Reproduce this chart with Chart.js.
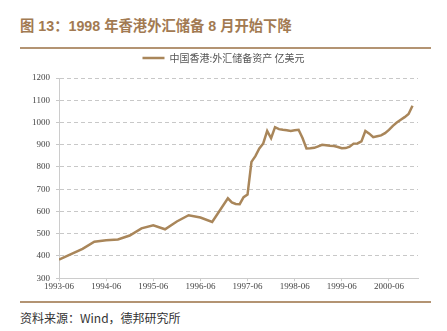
<!DOCTYPE html>
<html>
<head>
<meta charset="utf-8">
<script src="https://cdn.jsdelivr.net/npm/chart.js@4.4.1/dist/chart.umd.min.js"></script>
<style>
  body { margin: 0; width: 447px; height: 331px; background: #fff; position: relative; overflow: hidden; }
  #title { position: absolute; left: 20px; top: 14px; font: bold 14.3px "Liberation Sans", "Noto Sans CJK SC", sans-serif; color: #a27a52; white-space: nowrap; }
  .rule { position: absolute; left: 20px; width: 411px; height: 2px; background: #b39473; }
  #foot { position: absolute; left: 20px; top: 309px; font: 12px "Noto Sans CJK SC", sans-serif; color: #333; white-space: nowrap; }
  #box { position: absolute; left: 0; top: 45px; width: 447px; height: 247px; }
</style>
</head>
<body>
<div id="title">图 13：1998 年香港外汇储备 8 月开始下降</div>
<div class="rule" style="top:47px"></div>
<div id="box"><canvas id="chart"></canvas></div>
<div class="rule" style="top:301px"></div>
<div id="foot">资料来源：Wind，德邦研究所</div>

<script>
const seriesName = "中国香港:外汇储备资产 亿美元";

const dates = [
  "1993-06", "1993-12", "1994-03", "1994-06", "1994-09", "1994-12",
  "1995-03", "1995-06", "1995-09", "1995-12", "1996-03", "1996-06", "1996-09",
  "1997-01", "1997-02", "1997-03", "1997-04", "1997-05", "1997-06",
  "1997-07", "1997-08", "1997-09", "1997-10", "1997-11", "1997-12",
  "1998-01", "1998-02", "1998-03", "1998-04", "1998-05", "1998-06",
  "1998-07", "1998-08", "1998-09", "1998-10", "1998-11", "1998-12",
  "1999-01", "1999-02", "1999-03", "1999-04", "1999-05", "1999-06",
  "1999-07", "1999-08", "1999-09", "1999-10", "1999-11", "1999-12",
  "2000-01", "2000-02", "2000-03", "2000-04", "2000-05", "2000-06",
  "2000-07", "2000-08", "2000-09", "2000-10", "2000-11", "2000-12"
];

const reserves = [
  383, 432, 464, 471, 474, 492,
  524, 538, 520, 555, 583, 573, 553,
  659, 641, 634, 633, 664, 676,
  823, 849, 883, 906, 962, 929,
  979, 970, 967, 965, 962, 965,
  967, 930, 883, 884, 886, 893,
  900, 898, 895, 894, 890, 884,
  885, 891, 905, 906, 915, 962,
  950, 934, 938, 942, 952, 967,
  985, 1000, 1012, 1024, 1038, 1075
];

const tickLabels = ["1993-06", "1994-06", "1995-06", "1996-06", "1997-06", "1998-06", "1999-06", "2000-06"];

// months counted from 1993-06
function monthIndex(s) {
  const [y, m] = s.split("-").map(Number);
  return (y - 1993) * 12 + (m - 6);
}

const points = dates.map((d, i) => ({ x: monthIndex(d), y: reserves[i] }));
const tickPos = tickLabels.map(monthIndex);

const lineColor = "#a9865a";
const axisFont = { family: "Liberation Serif", size: 9 };

new Chart(document.getElementById("chart"), {
  type: "line",
  data: {
    datasets: [{
      label: seriesName,
      data: points,
      borderColor: lineColor,
      backgroundColor: lineColor,
      borderWidth: 2.5,
      pointRadius: 0,
      tension: 0
    }]
  },
  options: {
    responsive: true,
    maintainAspectRatio: false,
    animation: false,
    layout: { padding: { left: 0, right: 29, top: 0, bottom: 0 } },
    plugins: {
      tooltip: { enabled: false },
      legend: {
        position: "top",
        labels: {
          usePointStyle: true,
          pointStyle: "line",
          pointStyleWidth: 22,
          padding: 8,
          color: "#555",
          font: { family: "Noto Sans CJK SC", size: 10 }
        }
      }
    },
    scales: {
      x: {
        type: "linear",
        min: 0,
        max: 91.4,
        afterBuildTicks: (scale) => { scale.ticks = tickPos.map(v => ({ value: v })); },
        ticks: {
          color: "#444",
          font: axisFont,
          maxRotation: 0,
          padding: 0,
          callback: (v) => tickLabels[tickPos.indexOf(v)] || ""
        },
        grid: { drawOnChartArea: false, drawTicks: true, tickLength: 3, color: "#ccc" },
        border: { color: "#ccc" }
      },
      y: {
        min: 300,
        max: 1200,
        afterFit: (scale) => { scale.width = 59; },
        ticks: { stepSize: 100, color: "#444", font: axisFont, padding: 6, callback: (v) => String(v) },
        grid: { color: "#c8c8c8", tickLength: 3 },
        border: { color: "#ccc", dash: [4, 3] }
      }
    }
  },
  plugins: [{
    id: "legendSpacing",
    beforeInit: (chart) => {
      const fit = chart.legend.fit;
      chart.legend.fit = function () {
        fit.call(this);
        this.height += 5;
      };
    },
    afterLayout: (chart) => {
      chart.legend.left += 29;
    }
  }]
});
</script>
</body>
</html>
